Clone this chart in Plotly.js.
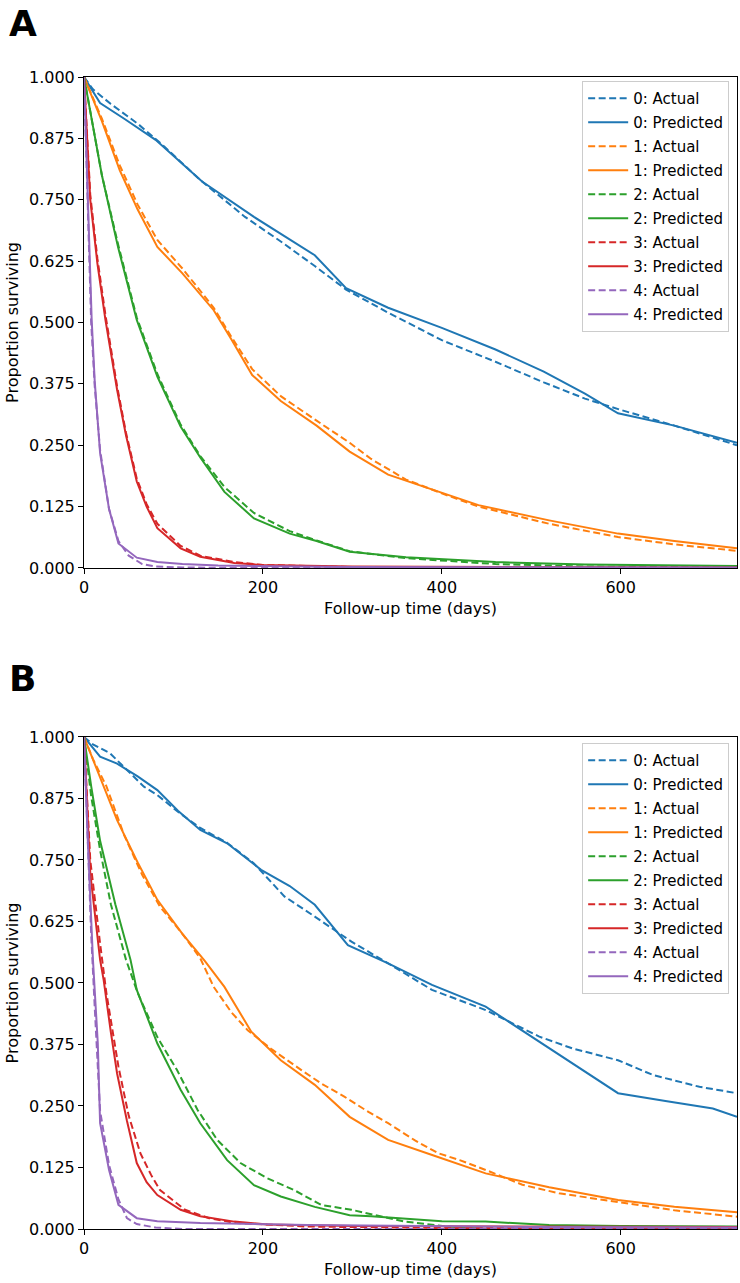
<!DOCTYPE html>
<html><head><meta charset="utf-8">
<script src="https://cdn.plot.ly/plotly-3.0.1.min.js"></script>
<style>html,body{margin:0;padding:0;background:#fff}#chart{width:740px;height:1283px}</style>
</head><body><div id="chart"></div><script>
// ---- Panel A ----
const A0_act_t = [0,10,30,60,90,130,180,220,258,293,340,400,460,514,560,600,660,730];
const A0_act_s = [1,0.975,0.945,0.905,0.858,0.79,0.715,0.665,0.615,0.567,0.52,0.464,0.42,0.378,0.345,0.322,0.29,0.25];
const A0_pre_t = [0,18,45,80,132,190,258,293,340,400,460,514,560,597,660,730];
const A0_pre_s = [1,0.947,0.915,0.872,0.787,0.715,0.637,0.57,0.53,0.489,0.445,0.40,0.355,0.315,0.29,0.255];
const A1_act_t = [0,20,40,60,82,110,145,165,188,220,260,297,321,360,400,441,520,597,660,730];
const A1_act_s = [1,0.915,0.82,0.74,0.668,0.61,0.53,0.47,0.405,0.35,0.3,0.255,0.222,0.18,0.152,0.125,0.09,0.063,0.048,0.035];
const A1_pre_t = [0,20,40,60,82,110,145,165,188,220,260,297,340,390,441,520,597,660,730];
const A1_pre_s = [1,0.91,0.81,0.73,0.654,0.6,0.525,0.465,0.393,0.34,0.29,0.237,0.19,0.16,0.128,0.097,0.07,0.055,0.04];
const A2_act_t = [0,10,20,38,59,82,108,130,157,190,230,260,297,360,460,560,730];
const A2_act_s = [1,0.9,0.8,0.66,0.51,0.395,0.292,0.228,0.165,0.112,0.075,0.056,0.034,0.02,0.008,0.003,0.001];
const A2_pre_t = [0,10,20,38,59,82,108,130,157,190,230,260,297,360,460,560,730];
const A2_pre_s = [1,0.9,0.8,0.654,0.505,0.39,0.288,0.225,0.155,0.101,0.07,0.055,0.033,0.022,0.012,0.007,0.004];
const A3_act_t = [0,7,15,24,37,47,59,70,82,108,130,168,200,300,400,730];
const A3_act_s = [1,0.76,0.63,0.515,0.37,0.275,0.182,0.13,0.09,0.045,0.025,0.012,0.006,0.002,0,0];
const A3_pre_t = [0,7,15,24,37,47,59,70,82,108,130,168,200,300,730];
const A3_pre_s = [1,0.75,0.62,0.505,0.363,0.27,0.176,0.125,0.081,0.04,0.023,0.01,0.006,0.003,0.001];
const A4_act_t = [0,4,8,12,18,28,38.5,50,65,80,110,200,730];
const A4_act_s = [1,0.74,0.5,0.37,0.24,0.12,0.055,0.025,0.008,0.003,0.001,0,0];
const A4_pre_t = [0,4.5,8.6,12,18,28,38.5,59,82,110,150,300,730];
const A4_pre_s = [1,0.75,0.505,0.38,0.234,0.12,0.05,0.021,0.012,0.008,0.005,0.002,0.001];
// ---- Panel B ----
const B0_act_t = [0,10,29,50,67,82,105,130,160,190,224,258,299,340,389,449,509,546,597,636,688,730];
const B0_act_s = [1,0.985,0.967,0.93,0.899,0.882,0.848,0.815,0.785,0.743,0.676,0.635,0.584,0.54,0.486,0.445,0.391,0.367,0.343,0.313,0.289,0.276];
const B0_pre_t = [0,18,37,60,82,105,130,160,198,230,258,295,340,389,449,512,597,650,703,730];
const B0_pre_s = [1,0.96,0.946,0.92,0.892,0.85,0.811,0.784,0.73,0.697,0.659,0.577,0.54,0.496,0.452,0.377,0.276,0.26,0.245,0.228];
const B1_act_t = [0,10,25,45,65,85,110,130,145,165,183,210,243,265,291,318,340,370,396,420,449,490,531,597,660,730];
const B1_act_s = [1,0.955,0.9,0.8,0.72,0.655,0.6,0.55,0.492,0.44,0.404,0.365,0.323,0.296,0.269,0.238,0.215,0.18,0.154,0.14,0.12,0.09,0.0725,0.0555,0.038,0.025];
const B1_pre_t = [0,15,37,60,82,110,135,157,187,220,258,297,340,390,449,520,597,660,730];
const B1_pre_s = [1,0.93,0.831,0.745,0.669,0.6,0.545,0.492,0.401,0.343,0.293,0.228,0.181,0.15,0.113,0.085,0.059,0.045,0.034];
const B2_act_t = [0,8,18,30,47,60,82,104,127,149,175,205,235,265,299,321,359,407,450,730];
const B2_act_s = [1,0.88,0.77,0.66,0.547,0.48,0.39,0.323,0.242,0.181,0.134,0.103,0.079,0.049,0.039,0.03,0.015,0.005,0,0];
const B2_pre_t = [0,8,18,35,52,59,82,108,130,160,190,220,258,297,321,400,449,520,600,730];
const B2_pre_s = [1,0.9,0.789,0.66,0.547,0.486,0.377,0.283,0.215,0.14,0.089,0.066,0.045,0.028,0.026,0.016,0.015,0.008,0.006,0.005];
const B3_act_t = [0,7,18,25,38.5,50,63,75,85,113,140,170,250,400,730];
const B3_act_s = [1,0.75,0.58,0.48,0.33,0.23,0.154,0.11,0.079,0.039,0.022,0.012,0.005,0.002,0.001];
const B3_pre_t = [0,7,18,22,30,37,48,59,70,82,108,130,168,205,300,500,730];
const B3_pre_s = [1,0.723,0.547,0.506,0.4,0.316,0.22,0.134,0.095,0.069,0.039,0.026,0.015,0.009,0.006,0.005,0.004];
const B4_act_t = [0,4,8,12,18,28,38.5,48,59,80,110,730];
const B4_act_s = [1,0.78,0.6,0.45,0.24,0.13,0.06,0.022,0.01,0.003,0,0];
const B4_pre_t = [0,4,10,15.4,18,28,38.5,59,82,130,250,500,730];
const B4_pre_s = [1,0.8,0.547,0.378,0.215,0.12,0.049,0.022,0.016,0.012,0.008,0.004,0.003];

const groupLabels = ['0','1','2','3','4'];
const colors = ['#1f77b4','#ff7f0e','#2ca02c','#d62728','#9467bd'];
const yTicks = [0,0.125,0.25,0.375,0.5,0.625,0.75,0.875,1];
const xTicks = [0,200,400,600];

const panelA = [[A0_act_t,A0_act_s,A0_pre_t,A0_pre_s],[A1_act_t,A1_act_s,A1_pre_t,A1_pre_s],[A2_act_t,A2_act_s,A2_pre_t,A2_pre_s],[A3_act_t,A3_act_s,A3_pre_t,A3_pre_s],[A4_act_t,A4_act_s,A4_pre_t,A4_pre_s]];
const panelB = [[B0_act_t,B0_act_s,B0_pre_t,B0_pre_s],[B1_act_t,B1_act_s,B1_pre_t,B1_pre_s],[B2_act_t,B2_act_s,B2_pre_t,B2_pre_s],[B3_act_t,B3_act_s,B3_pre_t,B3_pre_s],[B4_act_t,B4_act_s,B4_pre_t,B4_pre_s]];

const traces = [];
function addPanel(panel, xa, ya, leg, tag){
  panel.forEach((g,i)=>{
    traces.push({x:g[0],y:g[1],xaxis:xa,yaxis:ya,legend:leg,legendgroup:tag+i+'a',mode:'lines',name:groupLabels[i]+': Actual',line:{color:colors[i],width:2,dash:'7px,3.5px'}});
    traces.push({x:g[2],y:g[3],xaxis:xa,yaxis:ya,legend:leg,legendgroup:tag+i+'p',mode:'lines',name:groupLabels[i]+': Predicted',line:{color:colors[i],width:2}});
  });
}
addPanel(panelA,'x','y','legend','A');
addPanel(panelB,'x2','y2','legend2','B');

const font = {family:'DejaVu Sans, sans-serif', size:16, color:'#000'};
function xax(anchor){return {anchor:anchor,domain:[0,1],range:[0,730],tickvals:xTicks,ticktext:xTicks.map(String),ticks:'outside',ticklen:5,tickwidth:1,tickcolor:'#000',showline:true,mirror:true,linecolor:'#000',linewidth:1,showgrid:false,zeroline:false,tickfont:font,title:{text:'Follow-up time (days)',font:font,standoff:6}};}
function yax(anchor,dom){return {anchor:anchor,domain:dom,range:[0,1],tickvals:yTicks,tickformat:'.3f',ticks:'outside',ticklen:5,tickwidth:1,tickcolor:'#000',showline:true,mirror:true,linecolor:'#000',linewidth:1,showgrid:false,zeroline:false,tickfont:font,title:{text:'Proportion surviving',font:font,standoff:6}};}
function leg(y){return {x:0.988,xanchor:'right',y:y,yanchor:'top',bgcolor:'rgba(255,255,255,0.8)',bordercolor:'#cccccc',borderwidth:1,font:{family:'DejaVu Sans, sans-serif',size:15,color:'#000'},traceorder:'grouped',tracegroupgap:1.5,itemwidth:40};}

const layout = {
  width:740,height:1283,
  margin:{l:84,r:3,t:77,b:54,pad:0},
  paper_bgcolor:'#fff',plot_bgcolor:'#fff',
  font:font,
  xaxis:xax('y'), yaxis:yax('x',[0.5738,1]),
  xaxis2:xax('y2'), yaxis2:yax('x2',[0,0.4271]),
  legend:leg(0.9965), legend2:leg(0.4219),
  annotations:[
    {text:'<b>A</b>',xref:'paper',yref:'paper',x:-0.118,y:1.0662,xanchor:'left',yanchor:'top',showarrow:false,font:{family:'DejaVu Sans, sans-serif',size:36,color:'#000'}},
    {text:'<b>B</b>',xref:'paper',yref:'paper',x:-0.118,y:0.4977,xanchor:'left',yanchor:'top',showarrow:false,font:{family:'DejaVu Sans, sans-serif',size:36,color:'#000'}}
  ]
};
Plotly.newPlot('chart',traces,layout,{displayModeBar:false,staticPlot:true});
</script></body></html>
